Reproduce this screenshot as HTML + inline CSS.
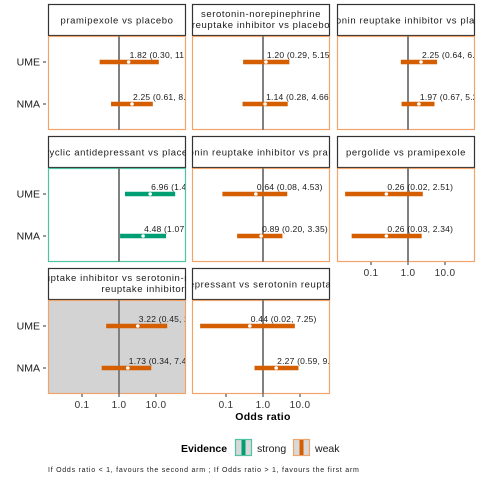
<!DOCTYPE html>
<html><head><meta charset="utf-8"><style>
body{margin:0;background:#fff;}
svg{display:block;font-family:"Liberation Sans",sans-serif;}
</style></head><body>
<svg id="chart" width="480" height="480" viewBox="0 0 480 480"></svg>
<script>
const comparisons = [
 ["pramipexole vs placebo"],
 ["serotonin-norepinephrine","reuptake inhibitor vs placebo"],
 ["selective serotonin reuptake inhibitor vs placebo"],
 ["tricyclic antidepressant vs placebo"],
 ["selective serotonin reuptake inhibitor vs pramipexole"],
 ["pergolide vs pramipexole"],
 ["selective serotonin reuptake inhibitor vs serotonin-norepinephrine","reuptake inhibitor"],
 ["tricyclic antidepressant vs serotonin reuptake inhibitor"]
];
const evidence = ["weak","weak","weak","strong","weak","weak","weak","weak"];
const umeEst = [1.82,1.20,2.25,6.96,0.64,0.26,3.22,0.44];
const umeLow = [0.30,0.29,0.64,1.45,0.08,0.02,0.45,0.02];
const umeHigh= [11.9,5.15,6.10,33.0,4.53,2.51,20.1,7.25];
const nmaEst = [2.25,1.14,1.97,4.48,0.89,0.26,1.73,2.27];
const nmaLow = [0.61,0.28,0.67,1.07,0.20,0.03,0.34,0.59];
const nmaHigh= [8.20,4.66,5.20,18.7,3.35,2.34,7.45,9.10];
const xTicks = [0.1,1,10];
const xTickLabels = ["0.1","1.0","10.0"];
const rowLabels = ["UME","NMA"];

const svg=document.getElementById('chart');
const NS="http://www.w3.org/2000/svg";
function mk(tag,attrs,parent){const e=document.createElementNS(NS,tag);for(const k in attrs)e.setAttribute(k,attrs[k]);(parent||svg).appendChild(e);return e;}
const colX=[48,192,337], PW=138;
const rowStrip=[4,136,268], STRIPH=32, PH=94;
const col={strong:"#009E73",weak:"#D55E00"};
const border={strong:"#4fc4a3",weak:"#f0a36a"};
const titleShift=[0,0,-24,0,-16,0,0,-6];
function xs(v,x0){return x0+71+37*Math.log10(v);}
const defs=mk('defs',{});
comparisons.forEach((lines,i)=>{
  const c=i%3,r=Math.floor(i/3),x0=colX[c],sy=rowStrip[r],py=sy+STRIPH;
  const g=mk('g',{});
  
  
  const cp=mk('clipPath',{id:'cp'+i},defs);mk('rect',{x:x0,y:sy,width:PW,height:STRIPH+PH},cp);
  const strip=mk('rect',{x:x0+0.5,y:sy+0.5,width:PW-1,height:STRIPH-1,fill:"#fff",stroke:"#333","stroke-width":1.2},g);
  
  
  const tg=mk('g',{'clip-path':'url(#cp'+i+')'},g);
  const cx=x0+PW/2+titleShift[i];
  const ts={'font-size':9.5,'letter-spacing':0.6,fill:'#1a1a1a'};
  if(lines.length===1){
    const t=mk('text',Object.assign({x:cx,y:sy+STRIPH/2+3.5,'text-anchor':'middle'},ts),tg);t.textContent=lines[0];
    
    
  } else {
    lines.forEach((l,k)=>{
      let a;
      if(i===6) a={x:(k===0?256:185),y:sy+13+k*11,'text-anchor':'end'};
      else a={x:cx,y:sy+13+k*11,'text-anchor':'middle'};
      const t=mk('text',Object.assign(a,ts),tg);
      t.textContent=l;
      
      });
  }
  const bg=mk('rect',{x:x0+0.5,y:py+0.5,width:PW-1,height:PH-1,fill:i===6?"#d3d3d3":"#fff",stroke:border[evidence[i]],"stroke-width":1.2},g);
  
  
  const cp2=mk('clipPath',{id:'pp'+i},defs);mk('rect',{x:x0+1,y:py,width:PW-2,height:PH},cp2);
  const pg=mk('g',{'clip-path':'url(#pp'+i+')'},g);
  const ref=mk('line',{x1:xs(1,x0),x2:xs(1,x0),y1:py,y2:py+PH,stroke:'#808080','stroke-width':2},pg);
  
  
  [[umeEst,umeLow,umeHigh,26],[nmaEst,nmaLow,nmaHigh,68]].forEach(([e,lo,hi,dy],k)=>{
    const y=py+dy;
    const b=mk('line',{x1:xs(lo[i],x0),x2:xs(hi[i],x0),y1:y,y2:y,stroke:col[evidence[i]],'stroke-width':4.5},pg);
    
    
    const p=mk('circle',{cx:xs(e[i],x0),cy:y,r:1.8,fill:'#fff'},pg);
    
    
    const t=mk('text',{x:xs(e[i],x0)+1,y:y-4,'font-size':8.5,'letter-spacing':0.2,fill:'#1a1a1a'},pg);
    t.textContent=e[i].toFixed(2)+" ("+lo[i].toFixed(2)+", "+hi[i].toFixed(2)+")";
    
    
  });
  if(c===0){
    rowLabels.forEach((l,k)=>{const y=py+(k?68:26);
      const t=mk('text',{x:40,y:y+3.5,'text-anchor':'end','font-size':10.5,fill:'#1a1a1a'});t.textContent=l;
      
      
      mk('line',{x1:43,x2:46,y1:y,y2:y,stroke:'#333'});});
  }
  if(i>=5){
    const ay=py+PH;
    xTicks.forEach((v,k)=>{
      mk('line',{x1:xs(v,x0),x2:xs(v,x0),y1:ay,y2:ay+3,stroke:'#333'});
      const t=mk('text',{x:xs(v,x0),y:ay+14,'text-anchor':'middle','font-size':10,'letter-spacing':0.3,fill:'#333'});t.textContent=xTickLabels[k];
      
      
    });
  }
});
let t=mk('text',{x:263,y:420,'text-anchor':'middle','font-size':10.5,'font-weight':'bold','letter-spacing':0.3,fill:'#000'});t.textContent="Odds ratio";

t=mk('text',{x:181,y:452,'font-size':10.5,'font-weight':'bold',fill:'#000'});t.textContent="Evidence";

[["strong",235,257],["weak",293,315]].forEach(([n,x,tx])=>{
  const g=mk('g',{});
  
  
  mk('rect',{x:x+0.5,y:439.5,width:16,height:16,fill:'#d9d9d9',stroke:border[n],'stroke-width':1.2},g);
  mk('rect',{x:x+6.5,y:440,width:4,height:15,fill:col[n]},g);
  const tt=mk('text',{x:tx,y:452,'font-size':10.5,fill:'#1a1a1a'},g);tt.textContent=n;
});
t=mk('text',{x:48,y:472,'font-size':7,'letter-spacing':0.75,fill:'#1a1a1a'});t.textContent="If Odds ratio < 1, favours the second arm ; If Odds ratio > 1, favours the first arm";

</script>
</body></html>
